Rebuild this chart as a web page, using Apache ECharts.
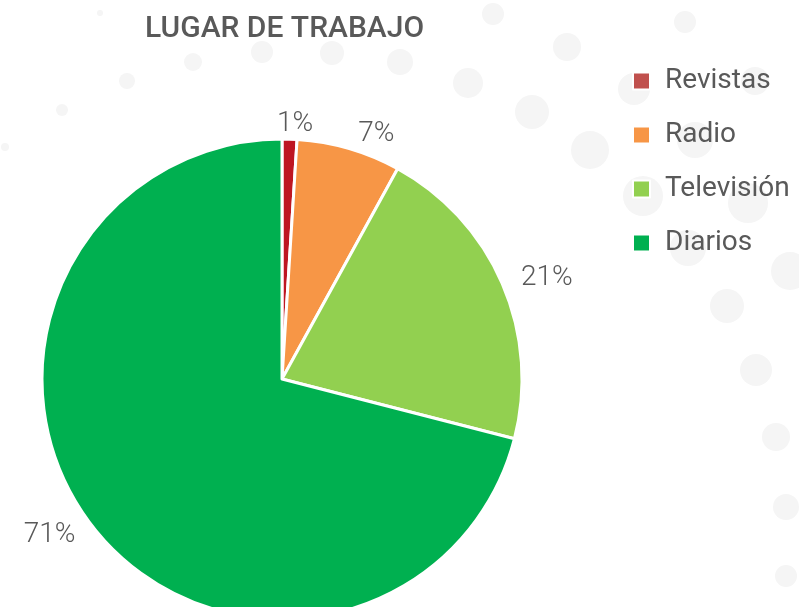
<!DOCTYPE html>
<html>
<head>
<meta charset="utf-8">
<script src="https://cdn.jsdelivr.net/npm/echarts@6/dist/echarts.min.js"></script>
<style>
  html, body { margin: 0; padding: 0; background: #ffffff; }
  #pie_1 { width: 799px; height: 607px; }
</style>
</head>
<body>
<div id="pie_1"></div>
<script>
// datos
var categorias = ['Revistas', 'Radio', 'Televisión', 'Diarios'];
var valores = [1, 7, 21, 71];
var colores = ['#BE1622', '#F79646', '#92D050', '#00B050'];
var coloresLeyenda = ['#C0504D', '#F79646', '#92D050', '#00B050'];

// circulos de fondo (decoracion)
var puntos = [
    [100, 13, 3], [193, 62, 9], [262, 52, 11], [332, 53, 12], [400, 62, 13],
    [127, 81, 8], [62, 110, 6], [5, 147, 4],
    [493, 14, 11], [685, 22, 11], [567, 47, 14], [468, 83, 15], [532, 112, 17],
    [590, 150, 19], [634, 89, 16], [643, 196, 20], [695, 140, 18], [755, 81, 14],
    [748, 203, 20], [688, 248, 18], [790, 271, 19], [727, 306, 17], [756, 370, 16],
    [776, 437, 14], [786, 507, 13], [786, 576, 11]
];

var fondo = puntos.map(function (p) {
    return {
        type: 'circle',
        z: 0,
        silent: true,
        shape: { cx: p[0], cy: p[1], r: p[2] },
        style: { fill: '#f5f5f5' }
    };
});

var pie = echarts.init(document.getElementById('pie_1'));
pie.setOption({
    animation: false,
    graphic: fondo,
    title: {
        text: 'LUGAR DE TRABAJO',
        left: 140,
        top: 9,
        textStyle: {
            fontFamily: 'Roboto',
            fontSize: 30,
            fontWeight: 500,
            color: '#595959'
        }
    },
    legend: {
        orient: 'vertical',
        left: 627,
        top: 62,
        icon: 'rect',
        itemWidth: 17,
        itemHeight: 17,
        itemGap: 26,
        textStyle: {
            fontFamily: 'Roboto',
            fontSize: 28,
            color: '#595959',
            padding: [0, 0, 0, 10]
        },
        data: categorias.map(function (c, i) {
            return { name: c, itemStyle: { color: coloresLeyenda[i] } };
        })
    },
    series: [
        {
            name: 'Lugar de trabajo',
            type: 'pie',
            z: 2,
            center: [282, 379],
            radius: 240,
            startAngle: 90,
            clockwise: true,
            avoidLabelOverlap: false,
            itemStyle: {
                borderColor: '#ffffff',
                borderWidth: 3
            },
            label: {
                show: true,
                position: 'outside',
                formatter: '{c}%',
                fontFamily: 'Roboto',
                fontWeight: 300,
                fontSize: 28,
                color: '#595959'
            },
            labelLine: { show: false, length: 15, length2: 0 },
            // etiquetas casi verticales centradas
            labelLayout: function (p) {
                var pts = p.labelLinePoints;
                if (!pts) return {};
                var dx = pts[1][0] - pts[0][0];
                var dy = pts[1][1] - pts[0][1];
                if (Math.abs(dx) < 0.15 * Math.abs(dy)) {
                    return { align: 'center' };
                }
                return {};
            },
            data: categorias.map(function (c, i) {
                return { name: c, value: valores[i], itemStyle: { color: colores[i] } };
            })
        }
    ]
});
</script>
</body>
</html>
